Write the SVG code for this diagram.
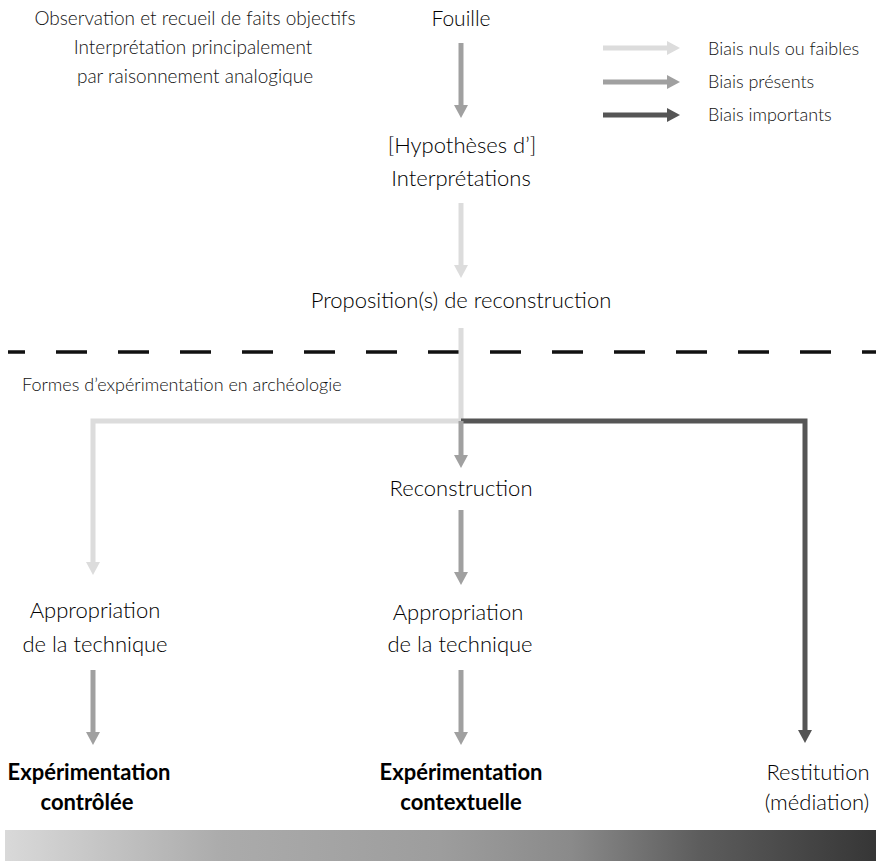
<svg xmlns="http://www.w3.org/2000/svg" width="876" height="861" viewBox="0 0 876 861">
<defs>
<style>
text{font-family:Lato,"Open Sans","Liberation Sans",sans-serif;font-weight:300;fill:#000;text-anchor:middle}
.m{font-size:22px}
.s{font-size:19px;fill:#111}
.b{font-size:22px;font-weight:700}
.l{text-anchor:start}
.c{fill:none;stroke-width:5}
.lt{stroke:#dcdcdc}
.md{stroke:#a0a0a0}
.dk{stroke:#555}
</style>
<marker id="aL" markerUnits="userSpaceOnUse" markerWidth="14" markerHeight="14" refX="0" refY="7" orient="auto"><path d="M0,0L13,7L0,14z" fill="#dcdcdc"/></marker>
<marker id="aM" markerUnits="userSpaceOnUse" markerWidth="14" markerHeight="14" refX="0" refY="7" orient="auto"><path d="M0,0L13,7L0,14z" fill="#a0a0a0"/></marker>
<marker id="aD" markerUnits="userSpaceOnUse" markerWidth="14" markerHeight="14" refX="0" refY="7" orient="auto"><path d="M0,0L13,7L0,14z" fill="#555"/></marker>
<linearGradient id="g" x1="0" y1="0" x2="1" y2="0">
<stop offset="0" stop-color="#d9d9d9"/>
<stop offset="0.25" stop-color="#ababab"/>
<stop offset="0.5" stop-color="#9d9d9d"/>
<stop offset="0.65" stop-color="#8a8a8a"/>
<stop offset="0.8" stop-color="#5c5c5c"/>
<stop offset="1" stop-color="#363636"/>
</linearGradient>
</defs>
<rect width="876" height="861" fill="#fff"/>
<g id="notes">
<text class="s" x="195" y="25">Observation et recueil de faits objectifs</text>
<text class="s" x="193" y="54">Interprétation principalement</text>
<text class="s" x="195" y="83">par raisonnement analogique</text>
</g>
<g id="legend">
<line class="c lt" x1="603" y1="48" x2="667" y2="48" marker-end="url(#aL)"/>
<line class="c md" x1="603" y1="82" x2="667" y2="82" marker-end="url(#aM)"/>
<line class="c dk" x1="603" y1="115" x2="667" y2="115" marker-end="url(#aD)"/>
<text class="s l" x="708" y="55" style="font-size:18px">Biais nuls ou faibles</text>
<text class="s l" x="708" y="88" style="font-size:18px">Biais présents</text>
<text class="s l" x="708" y="121" style="font-size:18px">Biais importants</text>
</g>
<line id="separator" x1="8" y1="352" x2="876" y2="352" stroke="#111" stroke-width="3.5" stroke-dasharray="31 31" stroke-dashoffset="14"/>
<text id="formes" class="s l" x="22" y="391" style="font-size:18px">Formes d’expérimentation en archéologie</text>
<g id="connectors">
<line class="c md" x1="461" y1="43" x2="461" y2="105" marker-end="url(#aM)"/>
<line class="c lt" x1="461" y1="203" x2="461" y2="265" marker-end="url(#aL)"/>
<polyline class="c lt" points="461,328 461,421 93,421 93,562" marker-end="url(#aL)"/>
<polyline class="c dk" points="461,421 805,421 805,730" marker-end="url(#aD)"/>
<line class="c md" x1="461" y1="421" x2="461" y2="455" marker-end="url(#aM)"/>
<line class="c md" x1="461" y1="510" x2="461" y2="572" marker-end="url(#aM)"/>
<line class="c md" x1="93" y1="670" x2="93" y2="732" marker-end="url(#aM)"/>
<line class="c md" x1="461" y1="670" x2="461" y2="732" marker-end="url(#aM)"/>
</g>
<g id="fouille"><text class="m" x="461" y="26" style="font-size:21px">Fouille</text></g>
<g id="interpretations">
<text class="m" x="462" y="153">[Hypothèses d’]</text>
<text class="m" x="461" y="186">Interprétations</text>
</g>
<g id="proposition"><text class="m" x="461" y="308">Proposition(s) de reconstruction</text></g>
<g id="reconstruction"><text class="m" x="461" y="496">Reconstruction</text></g>
<g id="appropriation1">
<text class="m" x="95" y="618">Appropriation</text>
<text class="m" x="95" y="652">de la technique</text>
</g>
<g id="appropriation2">
<text class="m" x="458" y="620">Appropriation</text>
<text class="m" x="460" y="652">de la technique</text>
</g>
<g id="controlee">
<text class="b" x="89" y="780">Expérimentation</text>
<text class="b" x="87" y="810">contrôlée</text>
</g>
<g id="contextuelle">
<text class="b" x="461" y="780">Expérimentation</text>
<text class="b" x="461" y="810">contextuelle</text>
</g>
<g id="restitution">
<text class="m" x="818" y="780">Restitution</text>
<text class="m" x="817" y="810">(médiation)</text>
</g>
<rect id="scale" x="5" y="830" width="871" height="31" fill="url(#g)"/>
</svg>
